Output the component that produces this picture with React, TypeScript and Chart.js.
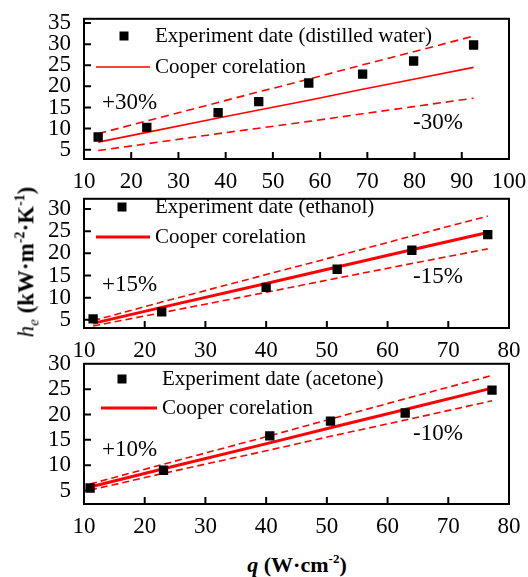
import React, { useEffect, useRef } from 'react';
import { Chart, registerables } from 'chart.js';

Chart.register(...registerables);

// ---------- data ----------
// Panel 1: distilled water
const waterQ = [13, 23.3, 38.4, 47, 57.6, 69, 79.8, 92.5];
const waterH = [8.0, 10.3, 13.8, 16.4, 20.8, 22.9, 26.0, 29.8];
const waterCooper = [6.8, 9.1, 12.5, 14.4, 16.7, 19.3, 21.7, 24.5];
const waterUpper = [8.8, 11.8, 16.2, 18.7, 21.7, 25.1, 28.2, 31.9];
const waterLower = [4.8, 6.4, 8.8, 10.1, 11.7, 13.5, 15.2, 17.2];

// Panel 2: ethanol
const ethanolQ = [11.5, 22.8, 40, 51.7, 64, 76.5];
const ethanolH = [5.2, 6.8, 12.3, 16.4, 20.7, 24.2];
const ethanolCooper = [4.2, 7.8, 13.2, 16.9, 20.8, 24.7];
const ethanolUpper = [4.8, 9.0, 15.2, 19.4, 23.9, 28.4];
const ethanolLower = [3.6, 6.6, 11.2, 14.4, 17.7, 21.0];

// Panel 3: acetone
const acetoneQ = [11, 23.1, 40.6, 50.6, 62.9, 77.2];
const acetoneH = [5.5, 9.0, 15.8, 18.7, 20.3, 24.8];
const acetoneCooper = [5.7, 9.3, 14.4, 17.4, 21.0, 25.2];
const acetoneUpper = [6.3, 10.2, 15.8, 19.1, 23.1, 27.7];
const acetoneLower = [5.1, 8.4, 13.0, 15.7, 18.9, 22.7];

// tick labels
const xTicksWater = [10, 20, 30, 40, 50, 60, 70, 80, 90, 100];
const yTicksWater = [5, 10, 15, 20, 25, 30, 35];
const xTicksOther = [10, 20, 30, 40, 50, 60, 70, 80];
const yTicksOther = [5, 10, 15, 20, 25, 30];

const FONT = '"Liberation Serif", "Times New Roman", serif';

type Spec = {
  top: number; height: number; areaTop: number; areaBottom: number;
  xMin: number; xMax: number; yMin: number; yMax: number;
  xTicks: number[]; yTicks: number[];
  q: number[]; h: number[]; cooper: number[]; upper: number[]; lower: number[];
  pointLabel: string; plusLabel: string; minusLabel: string;
  solidWidth: number; dashWidth: number; dash: number[];
  lg: { mx: number; my: number; tx: number; ty1: number; lx1: number; lx2: number; ly: number; ty2: number };
  plus: [number, number]; minus: [number, number];
};

const specs: Spec[] = [
  {
    top: 0, height: 190, areaTop: 13, areaBottom: 159,
    xMin: 10, xMax: 100, yMin: 2.8, yMax: 36,
    xTicks: xTicksWater, yTicks: yTicksWater,
    q: waterQ, h: waterH, cooper: waterCooper, upper: waterUpper, lower: waterLower,
    pointLabel: 'Experiment date (distilled water)', plusLabel: '+30%', minusLabel: '-30%',
    solidWidth: 1.6, dashWidth: 1.6, dash: [8, 5],
    lg: { mx: 124, my: 36, tx: 155, ty1: 36, lx1: 96, lx2: 150, ly: 67, ty2: 67 },
    plus: [102, 103], minus: [413, 123],
  },
  {
    top: 180, height: 185, areaTop: 191, areaBottom: 328,
    xMin: 10, xMax: 80, yMin: 3.15, yMax: 32.3,
    xTicks: xTicksOther, yTicks: yTicksOther,
    q: ethanolQ, h: ethanolH, cooper: ethanolCooper, upper: ethanolUpper, lower: ethanolLower,
    pointLabel: 'Experiment date (ethanol)', plusLabel: '+15%', minusLabel: '-15%',
    solidWidth: 3, dashWidth: 1.6, dash: [7, 4],
    lg: { mx: 122, my: 207, tx: 155, ty1: 207, lx1: 96, lx2: 150, ly: 237, ty2: 237 },
    plus: [102, 285], minus: [413, 277],
  },
  {
    top: 345, height: 200, areaTop: 362, areaBottom: 504,
    xMin: 10, xMax: 80, yMin: 2.35, yMax: 30,
    xTicks: xTicksOther, yTicks: yTicksOther,
    q: acetoneQ, h: acetoneH, cooper: acetoneCooper, upper: acetoneUpper, lower: acetoneLower,
    pointLabel: 'Experiment date (acetone)', plusLabel: '+10%', minusLabel: '-10%',
    solidWidth: 3, dashWidth: 1.6, dash: [7, 4],
    lg: { mx: 122, my: 379, tx: 162, ty1: 379, lx1: 101, lx2: 157, ly: 408, ty2: 408 },
    plus: [102, 450], minus: [413, 434],
  },
];

const AREA_LEFT = 84;
const AREA_RIGHT = 509;
const W = 528;

function Panel({ s }: { s: Spec }) {
  const ref = useRef<HTMLCanvasElement>(null);
  useEffect(() => {
    const canvas = ref.current!;
    const pts = (xs: number[], ys: number[]) => xs.map((x, i) => ({ x, y: ys[i] }));
    const off = s.top;
    const frame = {
      id: 'frame',
      afterDraw(chart: any) {
        const { ctx, chartArea: a, scales } = chart;
        ctx.save();
        ctx.strokeStyle = '#000';
        ctx.lineWidth = 2;
        ctx.strokeRect(a.left, a.top, a.right - a.left, a.bottom - a.top);
        ctx.beginPath();
        scales.x.ticks.forEach((t: any) => {
          const px = scales.x.getPixelForValue(t.value);
          if (px > a.left + 2 && px < a.right - 2) {
            ctx.moveTo(px, a.bottom);
            ctx.lineTo(px, a.bottom - 7);
          }
        });
        scales.y.ticks.forEach((t: any) => {
          const py = scales.y.getPixelForValue(t.value);
          if (py > a.top + 2 && py < a.bottom - 2) {
            ctx.moveTo(a.left, py);
            ctx.lineTo(a.left + 7, py);
          }
        });
        ctx.stroke();
        // legend
        const L = s.lg;
        ctx.fillStyle = '#000';
        ctx.fillRect(L.mx - 4.5, L.my - off - 4.5, 9, 9);
        ctx.font = `21px ${FONT}`;
        ctx.textBaseline = 'middle';
        ctx.textAlign = 'left';
        ctx.fillText(s.pointLabel, L.tx, L.ty1 - off);
        ctx.fillText('Cooper corelation', L.tx, L.ty2 - off);
        ctx.strokeStyle = '#ff0000';
        ctx.lineWidth = s.solidWidth;
        ctx.beginPath();
        ctx.moveTo(L.lx1, L.ly - off);
        ctx.lineTo(L.lx2, L.ly - off);
        ctx.stroke();
        // percentage labels
        ctx.fillStyle = '#000';
        ctx.font = `23px ${FONT}`;
        ctx.fillText(s.plusLabel, s.plus[0], s.plus[1] - off);
        ctx.fillText(s.minusLabel, s.minus[0], s.minus[1] - off);
        ctx.restore();
      },
    };
    const chart = new Chart(canvas, {
      type: 'scatter',
      data: {
        datasets: [
          {
            data: pts(s.q, s.h),
            pointStyle: 'rect',
            pointRadius: 6.6,
            pointBackgroundColor: '#000',
            pointBorderColor: '#000',
            pointBorderWidth: 0,
            showLine: false,
          },
          {
            data: pts(s.q, s.cooper),
            showLine: true,
            borderColor: '#ff0000',
            borderWidth: s.solidWidth,
            pointRadius: 0,
          },
          {
            data: pts(s.q, s.upper),
            showLine: true,
            borderColor: '#ff0000',
            borderWidth: s.dashWidth,
            borderDash: s.dash,
            pointRadius: 0,
          },
          {
            data: pts(s.q, s.lower),
            showLine: true,
            borderColor: '#ff0000',
            borderWidth: s.dashWidth,
            borderDash: s.dash,
            pointRadius: 0,
          },
        ],
      },
      options: {
        animation: false,
        responsive: false,
        devicePixelRatio: 1,
        events: [],
        layout: { padding: { left: 0, right: W - AREA_RIGHT, top: s.areaTop - s.top, bottom: 0 } },
        plugins: { legend: { display: false }, tooltip: { enabled: false } },
        scales: {
          x: {
            type: 'linear',
            min: s.xMin,
            max: s.xMax,
            grid: { display: false },
            border: { display: false },
            afterBuildTicks: (sc: any) => { sc.ticks = s.xTicks.map((v) => ({ value: v })); },
            afterFit: (sc: any) => { sc.height = s.height - (s.areaBottom - s.top); },
            ticks: {
              font: { family: FONT, size: 23 },
              color: '#000',
              padding: 1,
              maxRotation: 0,
              autoSkip: false,
            },
          },
          y: {
            type: 'linear',
            min: s.yMin,
            max: s.yMax,
            grid: { display: false },
            border: { display: false },
            afterBuildTicks: (sc: any) => { sc.ticks = s.yTicks.map((v) => ({ value: v })); },
            afterFit: (sc: any) => { sc.width = AREA_LEFT; },
            ticks: {
              font: { family: FONT, size: 23 },
              color: '#000',
              padding: 5,
              autoSkip: false,
            },
          },
        },
      },
      plugins: [frame],
    } as any);
    return () => chart.destroy();
  }, [s]);
  return (
    <canvas
      ref={ref}
      width={W}
      height={s.height}
      style={{ position: 'absolute', left: 0, top: s.top, width: W, height: s.height }}
    />
  );
}

export default function App() {
  return (
    <div style={{ position: 'absolute', left: 0, top: 0, width: W, height: 577, background: '#fff', overflow: 'hidden' }}>
      {specs.map((s, i) => (
        <Panel key={i} s={s} />
      ))}
      <div
        style={{
          position: 'absolute',
          left: 27,
          top: 262,
          transform: 'translate(-50%, -50%) rotate(-90deg)',
          whiteSpace: 'nowrap',
          fontFamily: FONT,
          fontSize: 23,
          lineHeight: '26px',
          color: '#000',
        }}
      >
        <i>h</i>
        <sub style={{ fontSize: 15 }}><i>e</i></sub>
        <b> (kW·m<sup style={{ fontSize: 14 }}>-2</sup>·K<sup style={{ fontSize: 14 }}>-1</sup>)</b>
      </div>
      <div
        style={{
          position: 'absolute',
          left: 297,
          top: 562,
          transform: 'translate(-50%, -50%)',
          whiteSpace: 'nowrap',
          fontFamily: FONT,
          fontSize: 22,
          lineHeight: '24px',
          fontWeight: 'bold',
          color: '#000',
        }}
      >
        <i>q</i> (W·cm<sup style={{ fontSize: 13 }}>-2</sup>)
      </div>
    </div>
  );
}
